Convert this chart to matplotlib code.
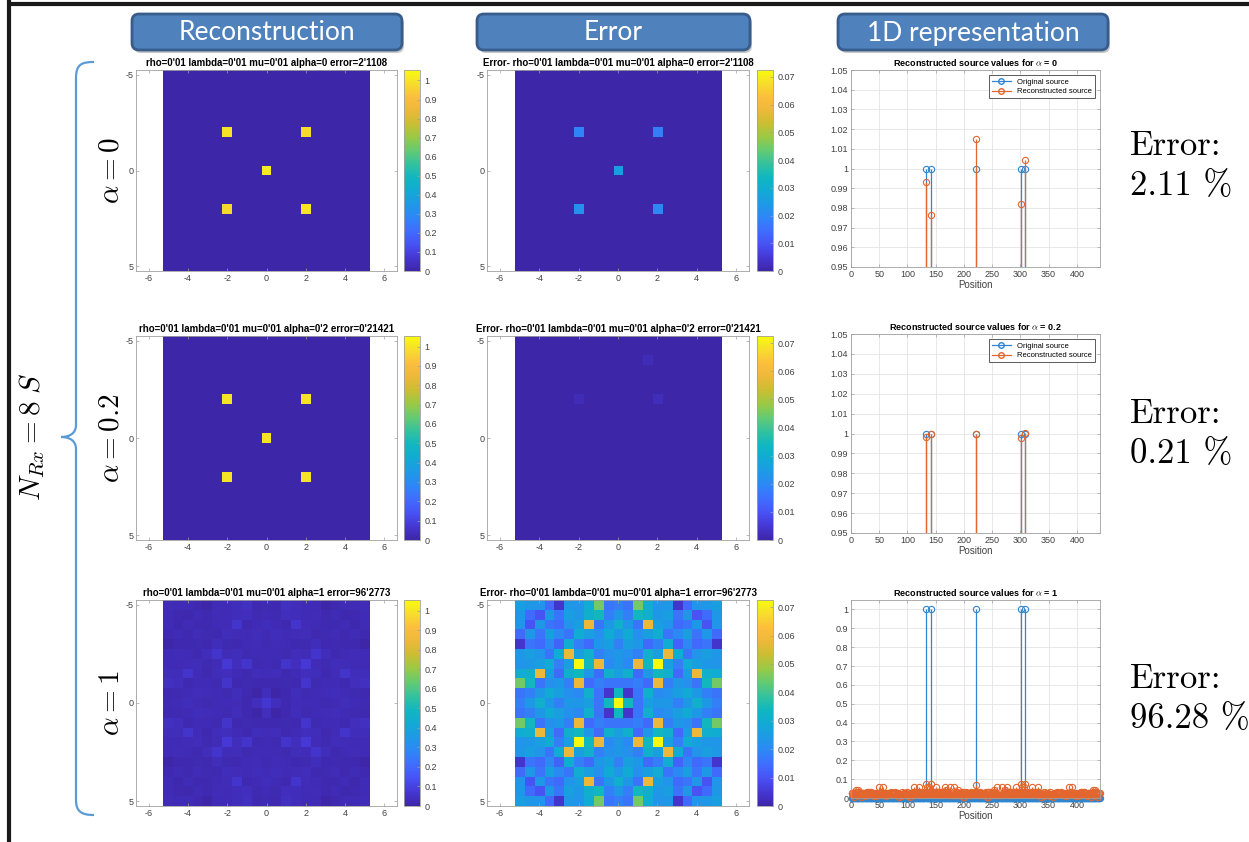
import numpy as np
import matplotlib
matplotlib.use("Agg")
import matplotlib.pyplot as plt
from matplotlib.colors import LinearSegmentedColormap
from matplotlib.lines import Line2D
from matplotlib.patches import FancyBboxPatch, PathPatch
from matplotlib.path import Path
from matplotlib.ticker import FuncFormatter

# ---------------- data ----------------
N = 21                                        # 21 x 21 grid, 441 positions
source_pos = [133, 141, 221, 301, 309]        # column-major, 1-based
recon_a0 = [0.9933, 0.9765, 1.0152, 0.9818, 1.0045]
recon_a02 = [0.9980, 0.9996, 0.9997, 0.9978, 1.0002]
err_a0 = [0.019, 0.022, 0.026, 0.018, 0.020]
err_a02_rows = [6, 6, 2]
err_a02_cols = [6, 14, 13]
err_a02 = [0.0018, 0.0022, 0.0018]

# reconstruction for alpha = 1, in thousandths
recon_a1_milli = [
    [26, 24, 23, 14, 4, 24, 23, 30, 45, 16, 18, 16, 45, 30, 23, 24, 4, 14, 23, 24, 26],
    [24, 14, 10, 24, 16, 26, 24, 31, 34, 18, 24, 18, 34, 31, 24, 26, 16, 24, 10, 14, 24],
    [23, 10, 24, 16, 14, 23, 26, 58, 16, 24, 31, 24, 16, 58, 26, 23, 14, 16, 24, 10, 23],
    [14, 24, 16, 26, 20, 16, 30, 26, 22, 29, 24, 29, 22, 26, 30, 16, 20, 26, 16, 24, 14],
    [4, 16, 14, 20, 13, 30, 18, 14, 24, 26, 18, 26, 24, 14, 18, 30, 13, 20, 14, 16, 4],
    [24, 26, 23, 16, 30, 58, 26, 31, 18, 22, 24, 22, 18, 31, 26, 58, 30, 16, 23, 26, 24],
    [23, 24, 26, 30, 18, 26, 75, 34, 58, 20, 24, 20, 58, 34, 75, 26, 18, 30, 26, 24, 23],
    [30, 31, 58, 26, 14, 31, 34, 24, 14, 31, 26, 31, 14, 24, 34, 31, 14, 26, 58, 31, 30],
    [45, 34, 16, 22, 24, 18, 58, 14, 18, 16, 16, 16, 18, 14, 58, 18, 24, 22, 16, 34, 45],
    [16, 18, 24, 29, 26, 22, 20, 31, 16, 4, 34, 4, 16, 31, 20, 22, 26, 29, 24, 18, 16],
    [18, 24, 31, 24, 18, 24, 24, 26, 16, 34, 70, 34, 16, 26, 24, 24, 18, 24, 31, 24, 18],
    [16, 18, 24, 29, 26, 22, 20, 31, 16, 4, 34, 4, 16, 31, 20, 22, 26, 29, 24, 18, 16],
    [45, 34, 16, 22, 24, 18, 58, 14, 18, 16, 16, 16, 18, 14, 58, 18, 24, 22, 16, 34, 45],
    [30, 31, 58, 26, 14, 31, 34, 24, 14, 31, 26, 31, 14, 24, 34, 31, 14, 26, 58, 31, 30],
    [23, 24, 26, 30, 18, 26, 75, 34, 58, 20, 24, 20, 58, 34, 75, 26, 18, 30, 26, 24, 23],
    [24, 26, 23, 16, 30, 58, 26, 31, 18, 22, 24, 22, 18, 31, 26, 58, 30, 16, 23, 26, 24],
    [4, 16, 14, 20, 13, 30, 18, 14, 24, 26, 18, 26, 24, 14, 18, 30, 13, 20, 14, 16, 4],
    [14, 24, 16, 26, 20, 16, 30, 26, 22, 29, 24, 29, 22, 26, 30, 16, 20, 26, 16, 24, 14],
    [23, 10, 24, 16, 14, 23, 26, 58, 16, 24, 31, 24, 16, 58, 26, 23, 14, 16, 24, 10, 23],
    [24, 14, 10, 24, 16, 26, 24, 31, 34, 18, 24, 18, 34, 31, 24, 26, 16, 24, 10, 14, 24],
    [26, 24, 23, 14, 4, 24, 23, 30, 45, 16, 18, 16, 45, 30, 23, 24, 4, 14, 23, 24, 26],
]

alpha_labels = ["0", "0.2", "1"]
alpha_tags = ["0", "0'2", "1"]
error_tags = ["2'1108", "0'21421", "96'2773"]
error_pct = ["2.11", "0.21", "96.28"]
headers = ["Reconstruction", "Error", "1D representation"]

# ---------------- styling ----------------
W, H = 1249, 842
BLUE = "#2f86d0"
ORANGE = "#e2662e"
AXC = "#a0a0a0"
TXC = "#404040"

parula = LinearSegmentedColormap.from_list("parula", [
    (0.2422, 0.1504, 0.6603), (0.2717, 0.2172, 0.8305), (0.2810, 0.3228, 0.9579),
    (0.2461, 0.4291, 0.9963), (0.1786, 0.5289, 0.9682), (0.1164, 0.6022, 0.9004),
    (0.0689, 0.6672, 0.8342), (0.0650, 0.7165, 0.7537), (0.2000, 0.7600, 0.6200),
    (0.3900, 0.7950, 0.4500), (0.6000, 0.7900, 0.2700), (0.7900, 0.7450, 0.2000),
    (0.9290, 0.7231, 0.2276), (0.9932, 0.7426, 0.2392), (0.9664, 0.8667, 0.1757),
    (0.9763, 0.9831, 0.0538)])

plt.rcParams["font.family"] = ["Liberation Sans", "DejaVu Sans"]
plt.rcParams["mathtext.fontset"] = "cm"
plt.rcParams["axes.unicode_minus"] = False


def to_grid(vals):
    g = np.zeros((N, N))
    for p, v in zip(source_pos, vals):
        g[(p - 1) % N, (p - 1) // N] = v
    return g


orig_grid = to_grid([1.0] * len(source_pos))
recon_grids = [to_grid(recon_a0), to_grid(recon_a02), np.array(recon_a1_milli) / 1000.0]
err_grids = [to_grid(err_a0), np.zeros((N, N)), np.abs(recon_grids[2] - orig_grid)]
for r, c, v in zip(err_a02_rows, err_a02_cols, err_a02):
    err_grids[1][r, c] = v

fig = plt.figure(figsize=(W / 100, H / 100), dpi=100)
bg = fig.add_axes([0, 0, 1, 1], zorder=-5)
bg.set_xlim(0, W)
bg.set_ylim(H, 0)
bg.axis("off")


def box_axes(l, t, r, b):
    return fig.add_axes([l / W, 1 - b / H, (r - l) / W, (b - t) / H])


def matlab_style(ax):
    for s in ax.spines.values():
        s.set_color(AXC)
        s.set_linewidth(0.6)
    ax.tick_params(direction="in", length=2.5, width=0.5, color=AXC, labelsize=6.5,
                   labelcolor=TXC, top=True, right=True, pad=2)


num_fmt = FuncFormatter(lambda v, _: f"{round(v, 4):g}")


def image_panel(l, t, r, b, cb_l, grid, vmax, cticks, title):
    ax = box_axes(l, t, r, b)
    im = ax.imshow(grid, cmap=parula, vmin=0, vmax=vmax, extent=(-5.25, 5.25, 5.25, -5.25),
                   interpolation="nearest", aspect="auto")
    ax.set_xlim(-6.65, 6.65)
    ax.set_ylim(5.25, -5.25)
    ax.set_xticks(np.arange(-6, 7, 2))
    ax.set_yticks([-5, 0, 5])
    matlab_style(ax)
    ax.set_title(title, fontsize=7, fontweight="bold", pad=3)
    cax = box_axes(cb_l, t, cb_l + 16, b)
    cb = fig.colorbar(im, cax=cax, ticks=cticks)
    cb.outline.set_edgecolor(AXC)
    cb.outline.set_linewidth(0.6)
    cax.yaxis.set_major_formatter(num_fmt)
    cax.tick_params(direction="in", length=2, width=0.5, color=AXC, labelsize=6.5,
                    labelcolor=TXC, pad=3)


def stem_panel(l, t, r, b, orig, recon, ylim, yticks, alpha, legend):
    ax = box_axes(l, t, r, b)
    pos = np.arange(1, N * N + 1)
    for vals, color in ((orig, BLUE), (recon, ORANGE)):
        ml, sl, bl = ax.stem(pos, vals, linefmt="-", markerfmt="o", basefmt=" ")
        sl.set_color(color)
        sl.set_linewidth(0.9)
        ml.set(markerfacecolor="none", markeredgecolor=color, markersize=4.5,
               markeredgewidth=0.8)
        if ylim[0] == 0:
            ml.set_clip_on(False)
    ax.set_xlim(0, N * N)
    ax.set_ylim(*ylim)
    ax.set_xticks(np.arange(0, 401, 50))
    ax.set_yticks(yticks)
    ax.yaxis.set_major_formatter(num_fmt)
    ax.grid(True, color="#e4e4e4", linewidth=0.6)
    ax.set_axisbelow(True)
    matlab_style(ax)
    ax.set_title(rf"Reconstructed source values for $\alpha$ = {alpha}", fontsize=6.5,
                 fontweight="bold", pad=3)
    ax.set_xlabel("Position", fontsize=7, color=TXC, labelpad=1)
    if legend:
        handles = [Line2D([], [], color=BLUE, marker="o", mfc="none", ms=4, lw=0.9),
                   Line2D([], [], color=ORANGE, marker="o", mfc="none", ms=4, lw=0.9)]
        leg = ax.legend(handles, ["Original source", "Reconstructed source"],
                        loc="upper right", fontsize=5.5, fancybox=False, edgecolor="#404040",
                        borderpad=0.4, labelspacing=0.3, handlelength=2.4, borderaxespad=0.7,
                        framealpha=1)
        leg.get_frame().set_linewidth(0.6)


# pixel boxes (left, top, right, bottom) for each row
rows_y = [(70, 271), (336, 540), (600, 806)]
stem_y = [(70, 267), (334, 533), (600, 798)]
stem_ylims = [((0.95, 1.05), np.arange(0.95, 1.0501, 0.01)),
              ((0.95, 1.05), np.arange(0.95, 1.0501, 0.01)),
              ((0.0, 1.05), np.arange(0.0, 1.001, 0.1))]

for i in range(3):
    t, b = rows_y[i]
    base = f"rho=0'01 lambda=0'01 mu=0'01 alpha={alpha_tags[i]} error={error_tags[i]}"
    image_panel(136, t, 397, b, 404, recon_grids[i], 1.055, np.arange(0, 1.001, 0.1), base)
    image_panel(487, t, 749, b, 757, err_grids[i], 0.0725, np.arange(0, 0.0701, 0.01),
                "Error- " + base)
    st, sb = stem_y[i]
    stem_panel(851, st, 1100, sb, orig_grid.flatten(order="F"),
               recon_grids[i].flatten(order="F"), stem_ylims[i][0], stem_ylims[i][1],
               alpha_labels[i], legend=(i < 2))

    # error summary on the right
    cy = (t + b) / 2
    bg.text(1130, cy - 24, "Error:", fontsize=25, family="cmr10", ha="left", va="center")
    bg.text(1130, cy + 16, f"{error_pct[i]} %", fontsize=25, family="cmr10", ha="left",
            va="center")
    # row label
    bg.text(111, cy, rf"$\alpha = {alpha_labels[i]}$", fontsize=21, rotation=90,
            ha="center", va="center")

# column header buttons
for x0, x1, label in zip([132, 477, 838], [402, 750, 1108], headers):
    bg.add_patch(FancyBboxPatch((x0 + 2, 17), x1 - x0, 36,
                                boxstyle="round,pad=0,rounding_size=7",
                                fc="#000000", ec="none", alpha=0.22))
    bg.add_patch(FancyBboxPatch((x0, 14), x1 - x0, 36,
                                boxstyle="round,pad=0,rounding_size=7",
                                fc="#4f81bd", ec="#385d8a", lw=2))
    bg.text((x0 + x1) / 2, 33, label, color="white", fontsize=19, ha="center",
            va="center", family="Lato")

# curly brace grouping the three rows
brace = Path(
    [(94, 62), (82, 62), (76, 64), (76, 78),
     (76, 425),
     (76, 433), (70, 437), (61, 437),
     (70, 437), (76, 441), (76, 449),
     (76, 800),
     (76, 812), (82, 815), (94, 815)],
    [Path.MOVETO, Path.CURVE4, Path.CURVE4, Path.CURVE4,
     Path.LINETO,
     Path.CURVE4, Path.CURVE4, Path.CURVE4,
     Path.CURVE4, Path.CURVE4, Path.CURVE4,
     Path.LINETO,
     Path.CURVE4, Path.CURVE4, Path.CURVE4])
bg.add_patch(PathPatch(brace, fc="none", ec="#5b9bd5", lw=1.6))
bg.text(32, 437, r"$N_{Rx} = 8\;S$", fontsize=21, rotation=90, ha="center", va="center")

# slide frame
bg.plot([9, 9], [0, H], color="#1a1a1a", lw=3, solid_capstyle="butt")
bg.plot([9, W], [4, 4], color="#1a1a1a", lw=3, solid_capstyle="butt")

fig.savefig("out.png", dpi=100)
